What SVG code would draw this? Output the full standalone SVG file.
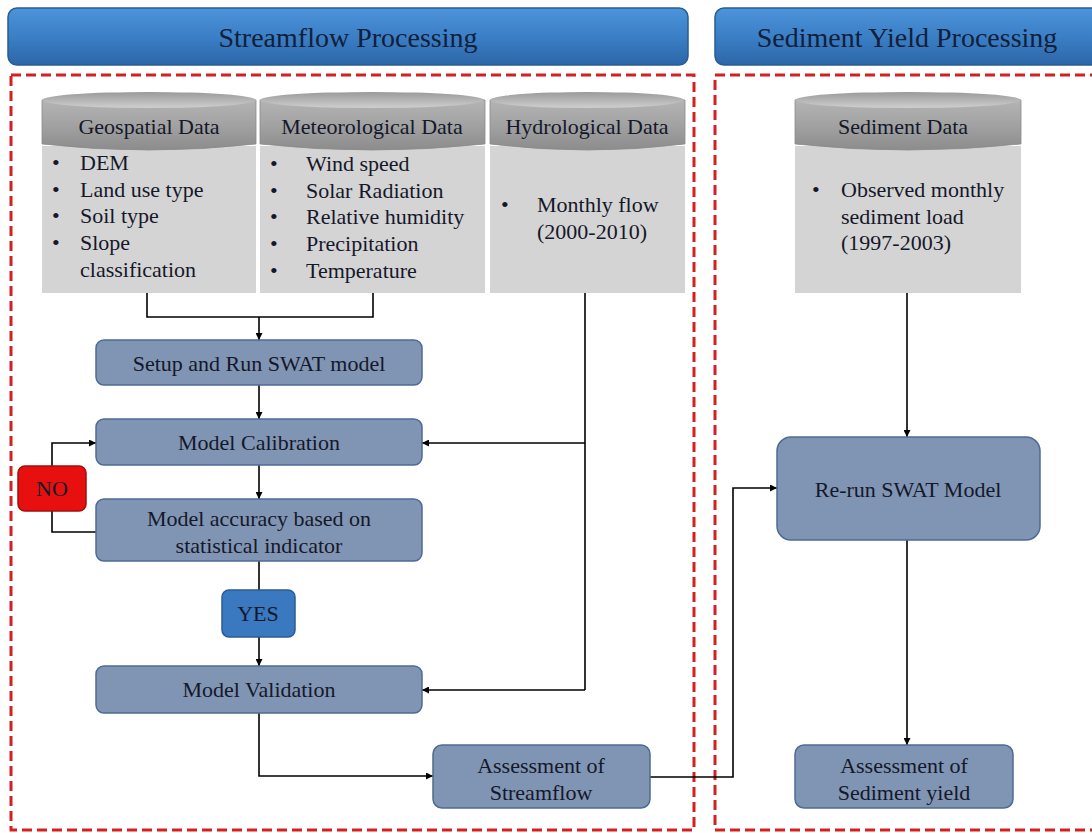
<svg xmlns="http://www.w3.org/2000/svg" width="1092" height="833" viewBox="0 0 1092 833" font-family="'Liberation Serif', 'Times New Roman', serif">
<defs>
<linearGradient id="hdr" x1="0" y1="0" x2="0" y2="1">
<stop offset="0" stop-color="#4d94da"/><stop offset="0.5" stop-color="#3b7fc6"/><stop offset="1" stop-color="#2c66a8"/>
</linearGradient>
<linearGradient id="band" x1="0" y1="0" x2="0" y2="1">
<stop offset="0" stop-color="#b4b4b4"/><stop offset="0.5" stop-color="#a2a2a2"/><stop offset="1" stop-color="#8c8c8c"/>
</linearGradient>
<linearGradient id="lid" x1="0" y1="0" x2="0" y2="1">
<stop offset="0" stop-color="#9a9a9a"/><stop offset="1" stop-color="#cfcfcf"/>
</linearGradient>
<marker id="arr" viewBox="0 0 10 10" refX="10" refY="5" markerWidth="7" markerHeight="7" orient="auto" markerUnits="userSpaceOnUse">
<path d="M0,0 L10,5 L0,10 z" fill="#000"/>
</marker>
<style>
text{font-family:'Liberation Serif','Times New Roman',serif;fill:#15182a}
.h{font-size:28px;text-anchor:middle;fill:#12203a}
.t{font-size:22px}
.c{font-size:22px;text-anchor:middle}
.box{fill:#8095b3;stroke:#4d6b93;stroke-width:1.5}
.body{fill:#d4d4d4}
.band{fill:url(#band);stroke:#8a8a8a;stroke-width:0.8}
.lid{fill:url(#lid)}
.dash{fill:none;stroke:#d42020;stroke-width:3;stroke-dasharray:10,5}
.ln{fill:none;stroke:#000;stroke-width:1.6}
.ar{fill:none;stroke:#000;stroke-width:1.6;marker-end:url(#arr)}
</style>
</defs>
<rect width="1092" height="833" fill="#fff"/>

<g id="hdr-stream">
<rect x="8" y="8" width="680" height="57" rx="9" fill="url(#hdr)" stroke="#2a5c94" stroke-width="1.5"/>
<text class="h" x="348" y="47">Streamflow Processing</text>
</g>
<g id="hdr-sediment">
<rect x="715" y="8" width="390" height="57" rx="9" fill="url(#hdr)" stroke="#2a5c94" stroke-width="1.5"/>
<text class="h" x="907" y="47">Sediment Yield Processing</text>
</g>

<rect class="dash" x="11" y="75" width="683" height="755"/>
<rect class="dash" x="715" y="75" width="400" height="755"/>

<g id="geo">
<rect class="body" x="42" y="146" width="214" height="147"/>
<path class="band" d="M42,100 L42,144 Q149,156 256,144 L256,100 Z"/>
<ellipse class="lid" cx="149" cy="100" rx="107" ry="8"/>
<text class="c" x="149" y="134">Geospatial Data</text>
<text class="t" x="52" y="170">•</text><text class="t" x="80" y="170">DEM</text>
<text class="t" x="52" y="197">•</text><text class="t" x="80" y="197">Land use type</text>
<text class="t" x="52" y="223">•</text><text class="t" x="80" y="223">Soil type</text>
<text class="t" x="52" y="250">•</text><text class="t" x="80" y="250">Slope</text>
<text class="t" x="80" y="277">classification</text>
</g>

<g id="met">
<rect class="body" x="260" y="146" width="225" height="147"/>
<path class="band" d="M260,100 L260,144 Q372,156 485,144 L485,100 Z"/>
<ellipse class="lid" cx="372" cy="100" rx="112" ry="8"/>
<text class="c" x="372" y="134">Meteorological Data</text>
<text class="t" x="270" y="171">•</text><text class="t" x="306" y="171">Wind speed</text>
<text class="t" x="270" y="198">•</text><text class="t" x="306" y="198">Solar Radiation</text>
<text class="t" x="270" y="224">•</text><text class="t" x="306" y="224">Relative humidity</text>
<text class="t" x="270" y="251">•</text><text class="t" x="306" y="251">Precipitation</text>
<text class="t" x="270" y="278">•</text><text class="t" x="306" y="278">Temperature</text>
</g>

<g id="hydro">
<rect class="body" x="490" y="146" width="195" height="147"/>
<path class="band" d="M490,100 L490,144 Q587,156 685,144 L685,100 Z"/>
<ellipse class="lid" cx="587" cy="100" rx="97" ry="8"/>
<text class="c" x="587" y="134">Hydrological Data</text>
<text class="t" x="501" y="212">•</text><text class="t" x="537" y="212">Monthly flow</text>
<text class="t" x="537" y="239">(2000-2010)</text>
</g>

<g id="sed">
<rect class="body" x="795" y="146" width="226" height="147"/>
<path class="band" d="M795,100 L795,144 Q908,156 1021,144 L1021,100 Z"/>
<ellipse class="lid" cx="908" cy="100" rx="113" ry="8"/>
<text class="c" x="903" y="134">Sediment Data</text>
<text class="t" x="812" y="197">•</text><text class="t" x="841" y="197">Observed monthly</text>
<text class="t" x="841" y="224">sediment load</text>
<text class="t" x="841" y="250">(1997-2003)</text>
</g>

<g id="connectors">
<path class="ln" d="M147,293 V317 H373 V293"/>
<path class="ar" d="M259,317 V340"/>
<path class="ar" d="M259,385 V419"/>
<path class="ar" d="M259,465 V499"/>
<path class="ln" d="M259,561 V590"/>
<path class="ar" d="M259,637 V666"/>
<path class="ln" d="M585,293 V690"/>
<path class="ar" d="M585,443 H422"/>
<path class="ar" d="M585,690 H422"/>
<path class="ar" d="M96,532 H52 V443 H96"/>
<path class="ar" d="M259,713 V776 H433"/>
<path class="ar" d="M650,777 H733 V488 H777"/>
<path class="ar" d="M907,293 V437"/>
<path class="ar" d="M907,540 V745"/>
</g>

<g id="setup">
<rect class="box" x="96" y="340" width="326" height="45" rx="8"/>
<text class="c" x="259" y="371">Setup and Run SWAT model</text>
</g>
<g id="calib">
<rect class="box" x="96" y="419" width="326" height="46" rx="8"/>
<text class="c" x="259" y="450">Model Calibration</text>
</g>
<g id="accuracy">
<rect class="box" x="96" y="499" width="326" height="62" rx="8"/>
<text class="c" x="259" y="526">Model accuracy based on</text>
<text class="c" x="259" y="553">statistical indicator</text>
</g>
<g id="no">
<rect x="18" y="466" width="68" height="45" rx="7" fill="#e80f0f" stroke="#a01010" stroke-width="1.5"/>
<text class="c" x="52" y="496">NO</text>
</g>
<g id="yes">
<rect x="222" y="590" width="73" height="47" rx="7" fill="#3a78c0" stroke="#2a5c94" stroke-width="1.5"/>
<text class="c" x="258" y="621">YES</text>
</g>
<g id="valid">
<rect class="box" x="96" y="666" width="326" height="47" rx="8"/>
<text class="c" x="259" y="697">Model Validation</text>
</g>
<g id="assess-stream">
<rect class="box" x="433" y="745" width="217" height="63" rx="9"/>
<text class="c" x="541" y="773">Assessment of</text>
<text class="c" x="541" y="800">Streamflow</text>
</g>
<g id="rerun">
<rect class="box" x="777" y="437" width="263" height="103" rx="14"/>
<text class="c" x="908" y="497">Re-run SWAT Model</text>
</g>
<g id="assess-sed">
<rect class="box" x="795" y="745" width="218" height="63" rx="9"/>
<text class="c" x="904" y="773">Assessment of</text>
<text class="c" x="904" y="800">Sediment yield</text>
</g>
</svg>
